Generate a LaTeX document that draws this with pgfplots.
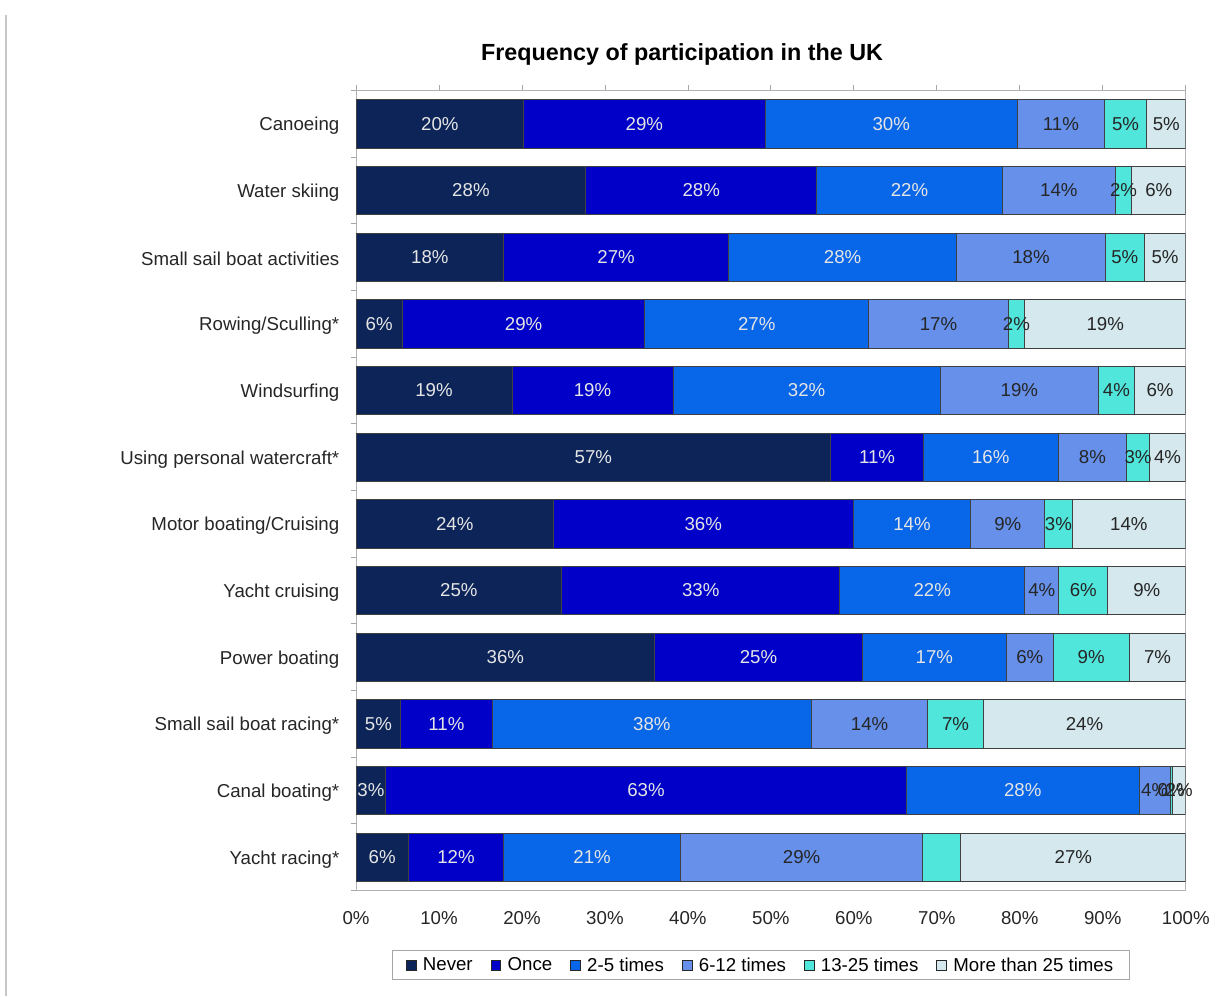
\documentclass[border=0pt]{standalone}
\usepackage{fontspec}
\setmainfont{Liberation Sans}
\usepackage{pgfplots}
\pgfplotsset{compat=1.18}
\usepackage{pgfplotstable}

\definecolor{cNever}{HTML}{0C2458}
\definecolor{cOnce}{HTML}{0000C8}
\definecolor{cTwo}{HTML}{0866E8}
\definecolor{cSix}{HTML}{6690EA}
\definecolor{cThirteen}{HTML}{50E6DC}
\definecolor{cMore}{HTML}{D4E8EE}

% y: 0 = Canoeing (top) ... 11 = Yacht racing* (bottom)
\pgfplotstableread{
y never once two six thirteen more
0  20.2 29.1 30.4 10.5 5.1 4.7
1  27.7 27.8 22.4 13.6 2.0 6.5
2  17.8 27.1 27.5 17.9 4.7 5.0
3  5.6  29.2 27.0 16.8 2.0 19.4
4  18.8 19.4 32.2 19.1 4.3 6.2
5  57.2 11.2 16.2 8.3  2.7 4.4
6  23.8 36.1 14.2 8.9  3.3 13.7
7  24.8 33.5 22.3 4.1  5.9 9.4
8  36.0 25.0 17.4 5.6  9.2 6.8
9  5.4  11.0 38.5 14.0 6.7 24.4
10 3.6  62.7 28.1 3.7  0.3 1.6
11 6.3  11.5 21.3 29.2 4.6 27.1
}\datatable

% label positions (segment centres) and printed percentages
\pgfplotstableread{
x y lab
10.1 0 20
34.75 0 29
64.5 0 30
13.85 1 28
41.6 1 28
66.7 1 22
8.9 2 18
31.35 2 27
58.65 2 28
2.8 3 6
20.2 3 29
48.3 3 27
9.4 4 19
28.5 4 19
54.3 4 32
28.6 5 57
62.8 5 11
76.5 5 16
11.9 6 24
41.85 6 36
67.0 6 14
12.4 7 25
41.55 7 33
69.45 7 22
18.0 8 36
48.5 8 25
69.7 8 17
2.7 9 5
10.9 9 11
35.65 9 38
1.8 10 3
34.95 10 63
80.35 10 28
3.15 11 6
12.05 11 12
28.45 11 21
}\lightlabels

\pgfplotstableread{
x y lab
84.95 0 11
92.75 0 5
97.65 0 5
84.7 1 14
92.5 1 2
96.75 1 6
81.35 2 18
92.65 2 5
97.5 2 5
70.2 3 17
79.6 3 2
90.3 3 19
79.95 4 19
91.65 4 4
96.9 4 6
88.75 5 8
94.25 5 3
97.8 5 4
78.55 6 9
84.65 6 3
93.15 6 14
82.65 7 4
87.65 7 6
95.3 7 9
81.2 8 6
88.6 8 9
96.6 8 7
61.9 9 14
72.25 9 7
87.8 9 24
96.25 10 4
98.25 10 0
99.2 10 2
53.7 11 29
86.45 11 27
}\darklabels

\newcommand{\lbl}{\fontsize{14}{16}\selectfont}

\begin{document}
\begin{tikzpicture}
\path[use as bounding box, fill=white] (0,0) rectangle (914.25pt,747pt);
\draw[gray!45, line width=1.5pt] (4.5pt,0) -- (4.5pt,736pt);

\begin{axis}[
  at={(267pt,79.125pt)}, anchor=south west,
  scale only axis, width=622.3pt, height=600pt,
  xmin=0, xmax=100, ymin=-0.5, ymax=11.5,
  y dir=reverse,
  xbar stacked, bar width=36.2pt,
  axis line style={draw=gray!60, line width=0.7pt},
  tick align=outside,
  major tick length=4pt,
  tick style={draw=gray!70, line width=0.6pt},
  xtick={0,10,...,100},
  xtick pos=right, xticklabel pos=left,
  xticklabels={0\%,10\%,20\%,30\%,40\%,50\%,60\%,70\%,80\%,90\%,100\%},
  xticklabel style={yshift=-8.3pt},
  ytick={-0.5,0.5,...,11.5},
  ytick pos=left,
  yticklabels={Canoeing, Water skiing, Small sail boat activities, Rowing/Sculling*, Windsurfing, Using personal watercraft*, Motor boating/Cruising, Yacht cruising, Power boating, Small sail boat racing*, Canal boating*, Yacht racing*, {}},
  yticklabel style={yshift=-26.5pt, xshift=-5pt},
  every tick label/.append style={font=\lbl, text=black!85},
  title={Frequency of participation in the UK},
  title style={font=\bfseries\fontsize{17.5}{20}\selectfont, at={(0.393,1.0355)}, anchor=center},
  legend style={at={(0.488,-0.0935)}, anchor=center, legend columns=-1,
    draw=gray!70, line width=0.7pt, font=\lbl, inner xsep=10pt, inner ysep=3pt,
    /tikz/every odd column/.append style={column sep=3pt},
    /tikz/every even column/.append style={column sep=11.5pt}},
  legend image code/.code={\draw[#1, draw=black!85, line width=0.5pt] (0pt,-3.6pt) rectangle (7.2pt,3.6pt);},
  every axis plot/.append style={draw=black!75, line width=0.6pt},
]
\addplot[fill=cNever] table[x=never, y=y] {\datatable};
\addplot[fill=cOnce] table[x=once, y=y] {\datatable};
\addplot[fill=cTwo] table[x=two, y=y] {\datatable};
\addplot[fill=cSix] table[x=six, y=y] {\datatable};
\addplot[fill=cThirteen] table[x=thirteen, y=y] {\datatable};
\addplot[fill=cMore] table[x=more, y=y] {\datatable};
\legend{Never, Once, 2-5 times, 6-12 times, 13-25 times, More than 25 times}
\end{axis}

\begin{axis}[
  at={(267pt,79.125pt)}, anchor=south west,
  scale only axis, width=622.3pt, height=600pt,
  xmin=0, xmax=100, ymin=-0.5, ymax=11.5,
  y dir=reverse, hide axis, clip=false,
]
\addplot[draw=none, mark=none, nodes near coords={\pgfplotspointmeta\%}, point meta=explicit symbolic,
  nodes near coords style={anchor=center, font=\lbl, text=white!90!black}]
  table[x=x, y=y, meta=lab] {\lightlabels};
\addplot[draw=none, mark=none, nodes near coords={\pgfplotspointmeta\%}, point meta=explicit symbolic,
  nodes near coords style={anchor=center, font=\lbl, text=black!85}]
  table[x=x, y=y, meta=lab] {\darklabels};
\end{axis}
\end{tikzpicture}
\end{document}
